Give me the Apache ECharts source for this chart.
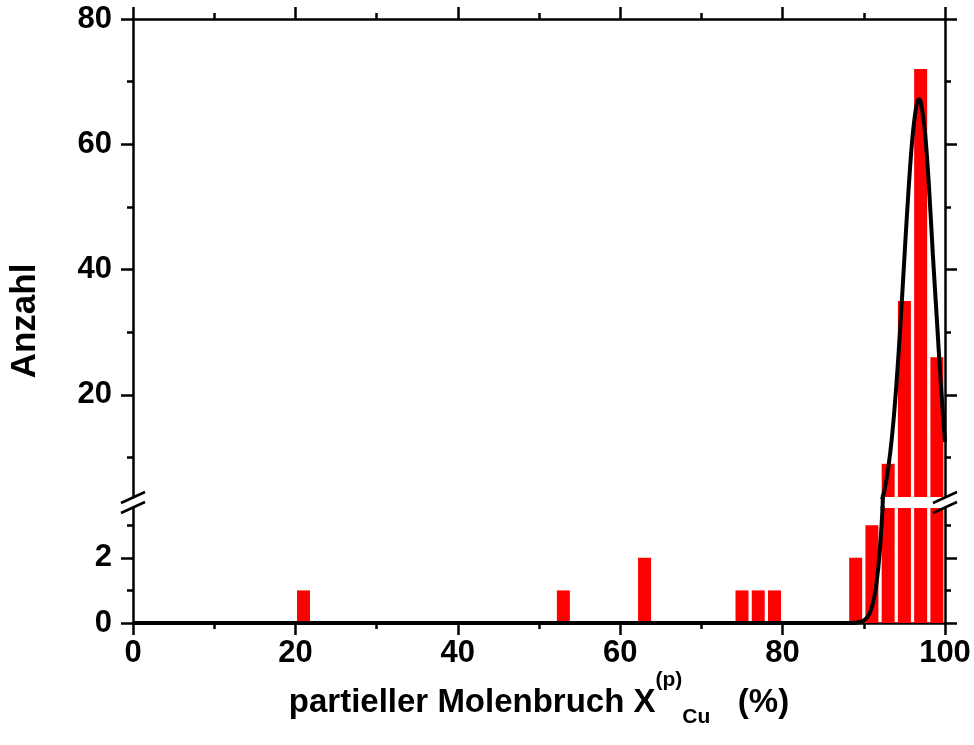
<!DOCTYPE html>
<html><head><meta charset="utf-8">
<script src="https://cdn.jsdelivr.net/npm/echarts@6/dist/echarts.min.js"></script>
<style>html,body{margin:0;padding:0;background:#fff}#c{width:974px;height:745px}</style>
</head><body><div id="c"></div>
<script>
// ---- data ----
const binCenters = [21, 53, 63, 75, 77, 79, 89, 91, 93, 95, 97, 99];
const counts     = [1, 1, 2, 1, 1, 1, 2, 3, 9, 35, 72, 26];
const fitX = [0, 80, 85, 88, 89, 89.5, 90, 90.5, 91, 91.5, 92, 92.5, 93, 93.5, 94, 94.5, 95, 95.5, 96, 96.5, 96.8, 97, 97.5, 98, 98.5, 99, 99.5, 100];
const fitY = [0, 0, 0, 0, 0.01, 0.03, 0.08, 0.2, 0.49, 1.1, 2.3, 4.5, 8.2, 13.7, 21.4, 31, 41.9, 52.5, 61.2, 66.3, 67.2, 66.8, 62.4, 53.8, 42.5, 32, 21.5, 12.5];
const xTickValues = [0, 20, 40, 60, 80, 100];
const upperMajor = [20, 40, 60, 80];
const upperMinor = [10, 30, 50, 70];
const lowerMajor = [0, 2];
const lowerMinor = [1, 3];
const upperRange = [3.7, 80];
const lowerRange = [0, 3.53];

// ---- layout ----
const L = 133, R = 974 - 945;
const UP_TOP = 19, UP_BOT = 497, LOW_TOP = 508, LOW_BOT = 623;
const FONT = '"Liberation Sans", Arial, sans-serif';
const LW = 2.5;
const lbl = {color: '#000', fontFamily: FONT, fontWeight: 'bold', fontSize: 31};

const chart = echarts.init(document.getElementById('c'), null, {renderer: 'canvas'});

function xAx(grid, pos, showLabels, name) {
  const o = {
    type: 'value', gridIndex: grid, position: pos, min: 0, max: 100, interval: 20,
    axisLine: {show: true, onZero: false, lineStyle: {color: '#000', width: LW}},
    axisTick: {show: true, inside: false, length: 12, lineStyle: {color: '#000', width: LW}},
    minorTick: {show: true, splitNumber: 2, length: 6, lineStyle: {color: '#000', width: LW}},
    axisLabel: Object.assign({show: showLabels, margin: 15}, lbl),
    splitLine: {show: false}, minorSplitLine: {show: false}
  };
  if (name) {
    o.name = name;
    o.nameLocation = 'middle';
    o.nameGap = 32;
    const base = {fontWeight: 'bold', fontFamily: FONT, color: '#000', lineHeight: 66};
    o.nameTextStyle = {
      rich: {
        m: Object.assign({fontSize: 33, verticalAlign: 'middle'}, base),
        sup: Object.assign({fontSize: 21, verticalAlign: 'top'}, base),
        sub: Object.assign({fontSize: 21, verticalAlign: 'bottom', padding: [0, 0, 8, 0]}, base)
      }
    };
  }
  return o;
}
function hiddenX(grid) {
  return {type: 'value', gridIndex: grid, min: 0, max: 100, show: false};
}
function yAx(grid, pos, range, ticks, tickLen, line, labels) {
  return {
    type: 'value', gridIndex: grid, position: pos, min: range[0], max: range[1], offset: 0,
    axisLine: {show: line, onZero: false, lineStyle: {color: '#000', width: LW}},
    axisTick: {show: true, inside: false, length: tickLen, customValues: ticks, lineStyle: {color: '#000', width: LW}},
    axisLabel: Object.assign({show: !!labels, margin: 21, customValues: labels || ticks}, lbl),
    splitLine: {show: false}
  };
}

const barData = binCenters.map((x, i) => [x, counts[i]]);
const fitData = fitX.map((x, i) => [x, fitY[i]]);

const bars = (xi, yi) => ({
  type: 'bar', xAxisIndex: xi, yAxisIndex: yi, data: barData, barWidth: 13,
  itemStyle: {color: '#ff0000'}, clip: true, animation: false, silent: true
});
const fit = (xi, yi) => ({
  type: 'line', xAxisIndex: xi, yAxisIndex: yi, data: fitData, smooth: 0.35,
  showSymbol: false, symbol: 'none', clip: true, z: 5,
  lineStyle: {color: '#000', width: 4}, animation: false, silent: true
});

function slash(cx, cy) {
  return {type: 'line', shape: {x1: cx - 12, y1: cy + 5.5, x2: cx + 12, y2: cy - 5.5},
          style: {stroke: '#000', lineWidth: LW}, z: 100};
}
const xL = L, xR = 974 - R;
const gapMid = (UP_BOT + LOW_TOP) / 2;

chart.setOption({
  animation: false,
  backgroundColor: '#fff',
  grid: [
    {left: L, right: R, top: UP_TOP, height: UP_BOT - UP_TOP},
    {left: L, right: R, top: LOW_TOP, height: LOW_BOT - LOW_TOP},
    {left: L, right: R, top: UP_BOT, height: LOW_TOP - UP_BOT}
  ],
  xAxis: [
    xAx(0, 'top', false),
    xAx(1, 'bottom', true, '{m|partieller Molenbruch X}{sup|(p)}{sub|Cu}{m|   (%)}'),
    hiddenX(2)
  ],
  yAxis: [
    yAx(0, 'left', upperRange, upperMajor, 12, true, upperMajor),
    yAx(0, 'left', upperRange, upperMinor, 6, false, null),
    yAx(0, 'right', upperRange, upperMajor, 12, true, null),
    yAx(0, 'right', upperRange, upperMinor, 6, false, null),
    yAx(1, 'left', lowerRange, lowerMajor, 12, true, lowerMajor),
    yAx(1, 'left', lowerRange, lowerMinor, 6, false, null),
    yAx(1, 'right', lowerRange, lowerMajor, 12, true, null),
    yAx(1, 'right', lowerRange, lowerMinor, 6, false, null),
    {type: 'value', gridIndex: 2, min: lowerRange[1], max: upperRange[0], show: false}
  ],
  series: [
    bars(0, 0),
    bars(1, 4),
    fit(0, 0),
    fit(1, 4),
    fit(2, 8)
  ],
  graphic: [
    {type: 'text', x: 25, y: 321, rotation: Math.PI / 2, z: 100,
     style: {text: 'Anzahl', font: 'bold 35px ' + FONT, fill: '#000', textAlign: 'center', textVerticalAlign: 'middle'}},
    slash(xL, gapMid - 5), slash(xL, gapMid + 5),
    slash(xR, gapMid - 5), slash(xR, gapMid + 5)
  ]
});
</script>
</body></html>
